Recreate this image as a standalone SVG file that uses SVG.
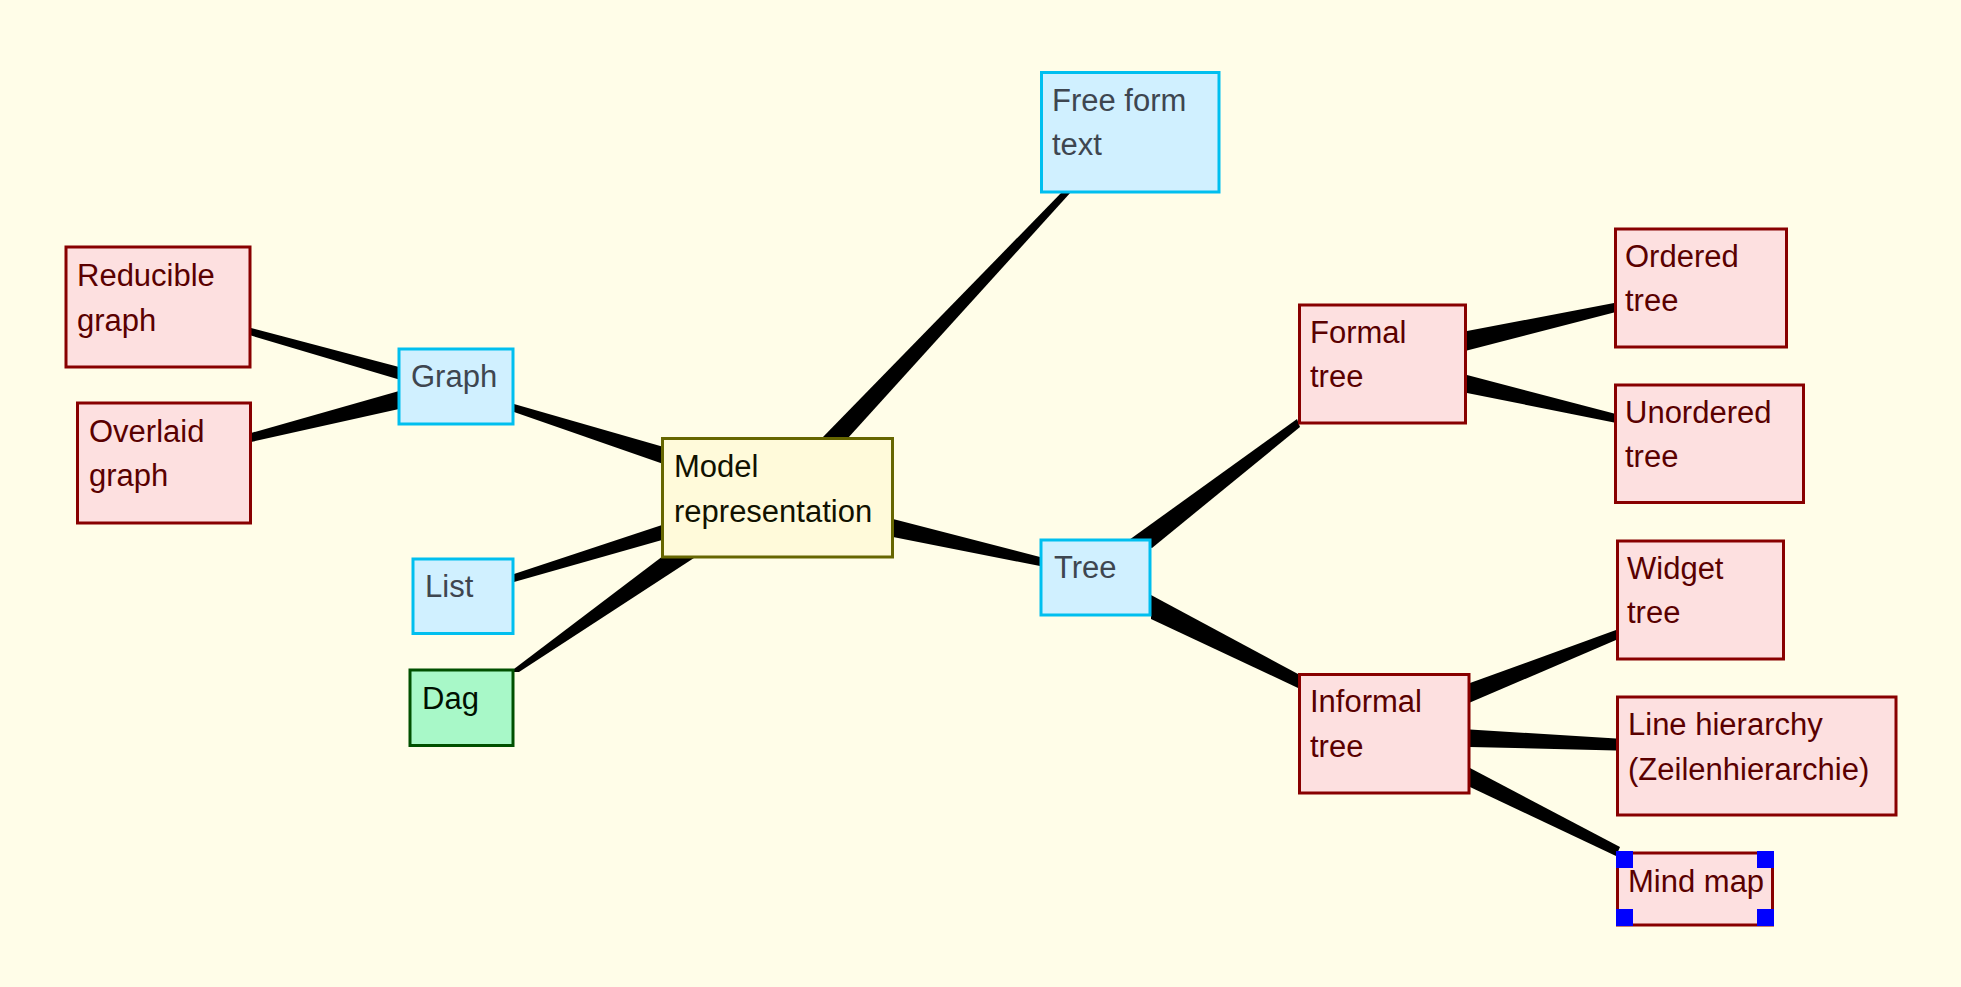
<svg xmlns="http://www.w3.org/2000/svg" width="1961" height="987" viewBox="0 0 1961 987">
<style>
  text { font-family: "Liberation Sans", Arial, sans-serif; font-size: 31px; }
  .pink rect { fill: #FDE0E0; stroke: #880000; stroke-width: 3; }
  .pink text { fill: #5A0000; }
  .blue rect { fill: #D0F0FF; stroke: #00BFEF; stroke-width: 3; }
  .blue text { fill: #3E4650; }
  .model rect { fill: #FFFADA; stroke: #666600; stroke-width: 3; }
  .model text { fill: #111100; }
  .dag rect { fill: #A8F8C8; stroke: #005000; stroke-width: 3; }
  .dag text { fill: #001000; }
  .handle { fill: #0000FF; }
  #connectors polygon { fill: #000000; }
</style>
<rect x="0" y="0" width="1961" height="987" fill="#FFFDE8"/>
<g id="connectors">
  <polygon points="251,328 399,367 399,379.5 251,335.5"/>
  <polygon points="251,433 399,391 399,409 251,442"/>
  <polygon points="514,404 662,446.5 662,463.5 514,412"/>
  <polygon points="514,574 662,525 662,540 514,582"/>
  <polygon points="510,672 663,556 697,556 519,672"/>
  <polygon points="822,438 1062,192 1071,192 848,438"/>
  <polygon points="893,519 1040,557 1040,566 893,537"/>
  <polygon points="1129,540 1297,419 1300,427 1152,548"/>
  <polygon points="1151,595 1298,674 1298,688 1151,619"/>
  <polygon points="1467,331 1614,303 1614,312.5 1467,350.5"/>
  <polygon points="1467,375 1614,413.5 1614,422.5 1467,393"/>
  <polygon points="1470,683 1616,630 1616,640 1470,702.5"/>
  <polygon points="1470,729.5 1616,738.5 1616,750.5 1470,747"/>
  <polygon points="1470,768 1620,847 1616,856 1470,787"/>
</g>
<g id="reducible-graph" class="pink">
  <rect x="66" y="247" width="184" height="120"/>
  <text x="77" y="286">Reducible</text>
  <text x="77" y="331">graph</text>
</g>
<g id="overlaid-graph" class="pink">
  <rect x="77.5" y="403" width="173" height="120"/>
  <text x="89" y="442">Overlaid</text>
  <text x="89" y="486">graph</text>
</g>
<g id="graph" class="blue">
  <rect x="399" y="349" width="114" height="75"/>
  <text x="411" y="387">Graph</text>
</g>
<g id="list" class="blue">
  <rect x="413" y="559" width="100" height="74.5"/>
  <text x="425" y="597">List</text>
</g>
<g id="dag" class="dag">
  <rect x="410" y="670" width="103" height="75.5"/>
  <text x="422" y="709">Dag</text>
</g>
<g id="model-representation" class="model">
  <rect x="662.5" y="438.5" width="230" height="118.5"/>
  <text x="674" y="477">Model</text>
  <text x="674" y="522">representation</text>
</g>
<g id="free-form-text" class="blue">
  <rect x="1041.5" y="72.5" width="177.5" height="119.5"/>
  <text x="1052" y="111">Free form</text>
  <text x="1052" y="155">text</text>
</g>
<g id="tree" class="blue">
  <rect x="1041" y="540" width="109" height="75"/>
  <text x="1054" y="578">Tree</text>
</g>
<g id="formal-tree" class="pink">
  <rect x="1299.5" y="305" width="166" height="118"/>
  <text x="1310" y="343">Formal</text>
  <text x="1310" y="387">tree</text>
</g>
<g id="ordered-tree" class="pink">
  <rect x="1615.5" y="229" width="171" height="118"/>
  <text x="1625" y="267">Ordered</text>
  <text x="1625" y="311">tree</text>
</g>
<g id="unordered-tree" class="pink">
  <rect x="1615.5" y="385" width="188" height="117.5"/>
  <text x="1625" y="423">Unordered</text>
  <text x="1625" y="467">tree</text>
</g>
<g id="widget-tree" class="pink">
  <rect x="1617.5" y="541" width="166" height="118"/>
  <text x="1627" y="579">Widget</text>
  <text x="1627" y="623">tree</text>
</g>
<g id="informal-tree" class="pink">
  <rect x="1299.5" y="674.5" width="169.5" height="118.5"/>
  <text x="1310" y="712">Informal</text>
  <text x="1310" y="757">tree</text>
</g>
<g id="line-hierarchy" class="pink">
  <rect x="1617.5" y="697" width="278.5" height="118"/>
  <text x="1628" y="735">Line hierarchy</text>
  <text x="1628" y="780">(Zeilenhierarchie)</text>
</g>
<g id="mind-map" class="pink">
  <rect x="1617.5" y="853" width="155" height="72"/>
  <text x="1628" y="892">Mind map</text>
  <rect class="handle" x="1616" y="851" width="17" height="17" style="stroke:none;fill:#0000FF"/>
  <rect class="handle" x="1757" y="851" width="17" height="17" style="stroke:none;fill:#0000FF"/>
  <rect class="handle" x="1616" y="909" width="17" height="17" style="stroke:none;fill:#0000FF"/>
  <rect class="handle" x="1757" y="909" width="17" height="17" style="stroke:none;fill:#0000FF"/>
</g>
</svg>
